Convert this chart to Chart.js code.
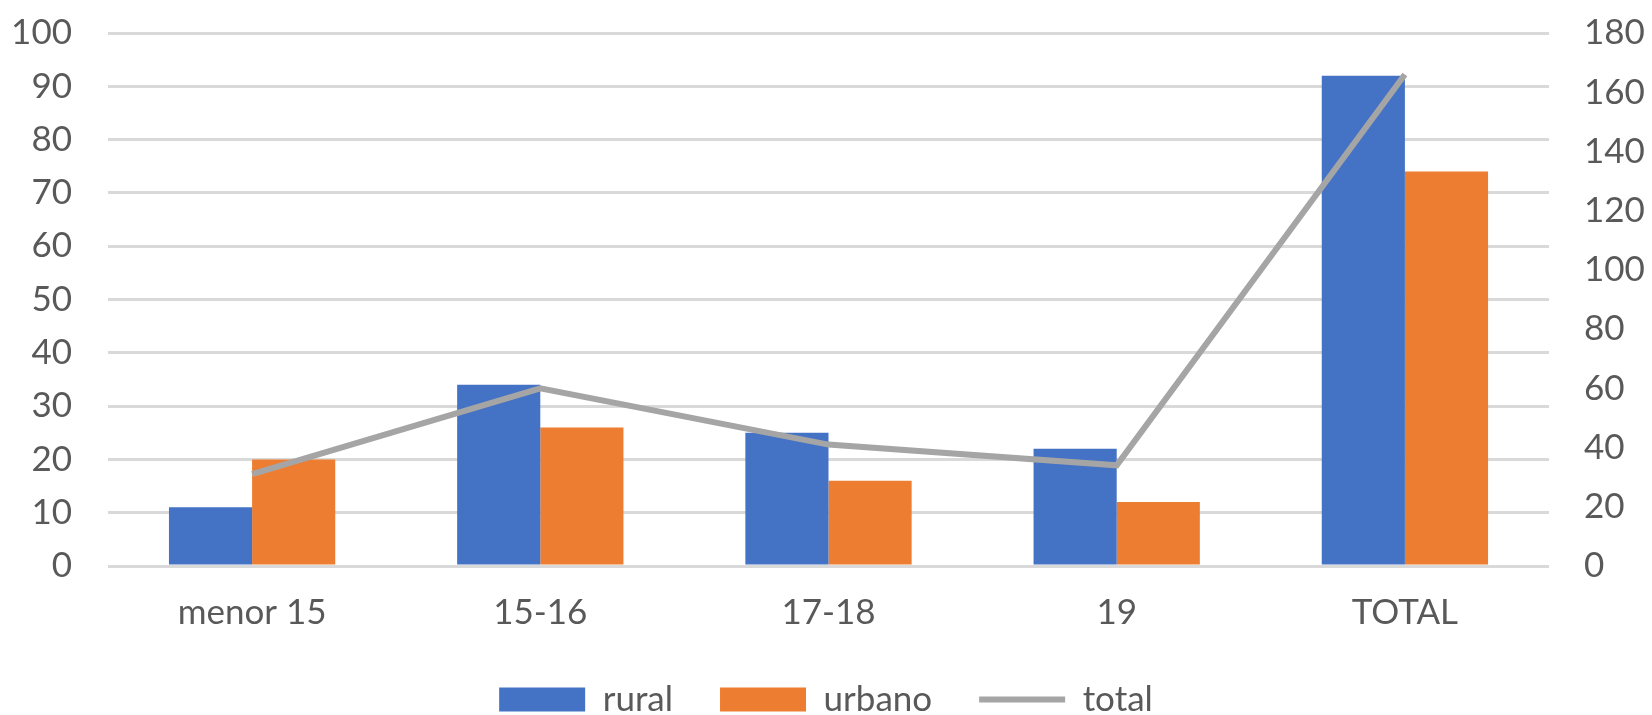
<!DOCTYPE html>
<html>
<head>
<meta charset="utf-8">
<script src="https://cdn.jsdelivr.net/npm/chart.js@4/dist/chart.umd.min.js"></script>
<style>
  html, body { margin: 0; padding: 0; background: #fff; }
  #wrap { width: 1652px; height: 715px; }
</style>
</head>
<body>
<div id="wrap"><canvas id="chart" width="1652" height="715"></canvas></div>
<script>
  // Data.
  const categories = ['menor 15', '15-16', '17-18', '19', 'TOTAL'];
  const rural = [11, 34, 25, 22, 92];
  const urbano = [20, 26, 16, 12, 74];
  const total = [31, 60, 41, 34, 166];

  const textColor = '#595959';
  const font = { family: 'Lato', size: 35 };

  const ctx = document.getElementById('chart').getContext('2d');

  new Chart(ctx, {
    type: 'bar',
    data: {
      labels: categories,
      datasets: [
        {
          label: 'rural',
          data: rural,
          backgroundColor: '#4472C4',
          yAxisID: 'y',
          order: 1,
          categoryPercentage: 0.577,
          barPercentage: 1.0,
        },
        {
          label: 'urbano',
          data: urbano,
          backgroundColor: '#ED7D31',
          yAxisID: 'y',
          order: 1,
          categoryPercentage: 0.577,
          barPercentage: 1.0,
        },
        {
          type: 'line',
          label: 'total',
          data: total,
          borderColor: '#A5A5A5',
          backgroundColor: '#A5A5A5',
          borderWidth: 6,
          pointRadius: 0,
          tension: 0,
          yAxisID: 'y1',
          order: 0,
        },
      ],
    },
    options: {
      responsive: false,
      animation: false,
      layout: {
        padding: { top: 33, bottom: -12, left: 0, right: 0 },
      },
      plugins: {
        tooltip: { enabled: false },
        legend: {
          display: true,
          position: 'bottom',
          labels: {
            color: textColor,
            font: font,
            usePointStyle: true,
            pointStyleWidth: 86,
            boxHeight: 24,
            padding: 47,
            sort: (a, b) => a.datasetIndex - b.datasetIndex,
            generateLabels: function (chart) {
              const items = Chart.defaults.plugins.legend.labels.generateLabels(chart);
              items.forEach(item => {
                const ds = chart.data.datasets[item.datasetIndex];
                if (ds.type === 'line') {
                  item.pointStyle = 'line';
                  item.lineWidth = 6;
                  item.strokeStyle = ds.borderColor;
                } else {
                  item.pointStyle = 'rect';
                  item.lineWidth = 0;
                  item.strokeStyle = ds.backgroundColor;
                }
              });
              return items;
            },
          },
        },
      },
      scales: {
        x: {
          grid: { display: false, drawTicks: false },
          border: { display: false },
          ticks: { color: textColor, font: font, padding: 26, maxRotation: 0 },
          afterFit: function (scale) { scale.height = 69; },
        },
        y: {
          position: 'left',
          min: 0,
          max: 100,
          grid: { color: '#D9D9D9', lineWidth: 3, drawTicks: false },
          border: { display: false },
          ticks: { color: textColor, font: font, stepSize: 10, padding: 36 },
          afterFit: function (scale) {
            scale.width = 108;
            scale.paddingTop = 0;
          },
        },
        y1: {
          position: 'right',
          min: 0,
          max: 180,
          grid: { display: false, drawTicks: false },
          border: { display: false },
          ticks: { color: textColor, font: font, stepSize: 20, padding: 35 },
          afterFit: function (scale) {
            scale.width = 103;
            scale.paddingTop = 0;
          },
        },
      },
    },
  });
</script>
</body>
</html>
